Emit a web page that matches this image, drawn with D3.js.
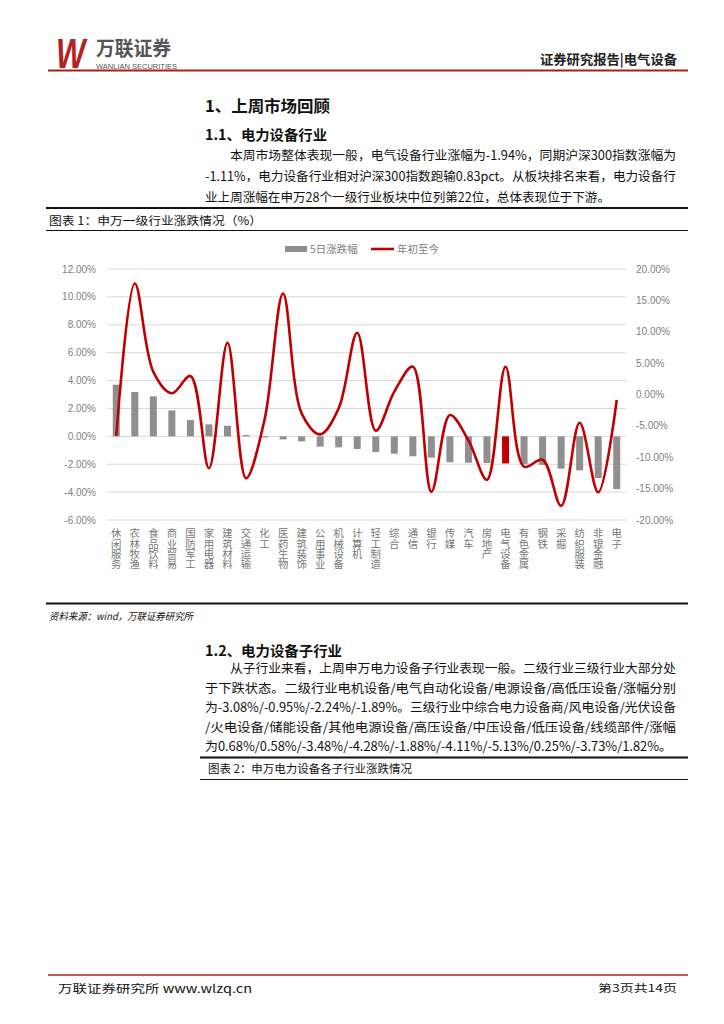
<!DOCTYPE html>
<html>
<head>
<meta charset="utf-8">
<script src="https://cdn.jsdelivr.net/npm/d3@7"></script>
<style>
  body { margin: 0; background: #fff; }
  svg { display: block; font-family: "Noto Sans CJK SC", "Noto Sans", sans-serif; }
  .vlabel { writing-mode: vertical-rl; text-orientation: upright; }
</style>
</head>
<body>
<svg width="724" height="1024"></svg>
<script>
// 申万一级行业
let categories = ['休闲服务', '农林牧渔', '食品饮料', '商业贸易', '国防军工', '家用电器', '建筑材料',
  '交通运输', '化工', '医药生物', '建筑装饰', '公用事业', '机械设备', '计算机', '轻工制造', '综合',
  '通信', '银行', '传媒', '汽车', '房地产', '电气设备', '有色金属', '钢铁', '采掘', '纺织服装',
  '非银金融', '电子'];
// 5日涨跌幅 (左轴, %)
let week5 = [3.70, 3.18, 2.87, 1.86, 1.17, 0.86, 0.76, 0.09, -0.08, -0.22, -0.36, -0.74, -0.79, -0.91,
  -1.13, -1.25, -1.43, -1.53, -1.86, -1.89, -1.91, -1.94, -1.98, -2.05, -2.32, -2.44, -2.99, -3.78];
// 年初至今 (右轴, %)
let ytd = [-6.6, 17.7, 3.6, 0.2, 2.95, -11.75, 8.25, -13.35, -4.0, 16.1, -3.0, -6.35, -2.2, 9.85,
  -5.76, 0.45, 4.43, -15.5, -3.27, -7.3, -13.6, 4.43, -11.5, -10.4, -17.75, -4.5, -15.6, -0.87];
let leftTicks = [12, 10, 8, 6, 4, 2, 0, -2, -4, -6];
let rightTicks = [20, 15, 10, 5, 0, -5, -10, -15, -20];
let highlight = '电气设备';

let svg = d3.select('svg');
let red = '#c00000', gray = '#8f8f8f', axisGray = '#7f7f7f';

// ---- text helpers ----
function textLine(str, x, y, opts) {
  let t = svg.append('text').attr('x', x).attr('y', y)
     .attr('font-size', opts.size || 12.5).attr('fill', opts.fill || '#111')
     .text(str);
  if (opts.bold) t.attr('font-weight', 'bold');
  if (opts.italic) t.attr('font-style', 'italic');
  if (opts.anchor) t.attr('text-anchor', opts.anchor);
  if (opts.len) t.attr('textLength', opts.len).attr('lengthAdjust', 'spacingAndGlyphs');
  return t;
}
function rule(x1, x2, y, w) {
  svg.append('line').attr('x1', x1).attr('x2', x2).attr('y1', y).attr('y2', y)
     .attr('stroke', '#111').attr('stroke-width', w);
}

// ---- page header ----
svg.append('text').attr('transform', 'translate(56,68) scale(0.74,1)')
   .attr('font-size', 42).attr('font-weight', 'bold').attr('font-style', 'italic')
   .attr('font-family', 'Liberation Sans, sans-serif')
   .attr('fill', '#b22222').text('W');
textLine('万联证券', 96, 56, {size: 20, bold: true, fill: '#555', len: 75});
svg.append('text').attr('x', 96).attr('y', 69)
   .attr('font-size', 7.5).attr('fill', '#555').attr('font-family', 'Liberation Sans, sans-serif')
   .text('WANLIAN SECURITIES');
textLine('证券研究报告|电气设备', 540, 64, {size: 13, bold: true, fill: '#222', len: 137});
svg.append('line').attr('x1', 48).attr('x2', 688).attr('y1', 70.5).attr('y2', 70.5)
   .attr('stroke', '#a3201c').attr('stroke-width', 2);

textLine('1、上周市场回顾', 205, 112, {size: 16, bold: true, len: 125});
textLine('1.1、电力设备行业', 205, 140, {size: 14, bold: true, len: 122});
textLine('本周市场整体表现一般，电气设备行业涨幅为-1.94%，同期沪深300指数涨幅为', 230, 160, {len: 446});
textLine('-1.11%，电力设备行业相对沪深300指数跑输0.83pct。从板块排名来看，电力设备行', 205, 181, {len: 471});
textLine('业上周涨幅在申万28个一级行业板块中位列第22位，总体表现位于下游。', 205, 202, {len: 405});

rule(46, 688, 208, 2);
textLine('图表 1：申万一级行业涨跌情况（%）', 49, 225, {size: 11.5, len: 213});
rule(46, 688, 230.5, 1);

// ---- chart ----
let x = d3.scaleBand().domain(categories).range([107, 626]);
let yL = d3.scaleLinear().domain([-6, 12]).range([520, 269]);
let yR = d3.scaleLinear().domain([-20, 20]).range([520, 269]);

svg.append('g').selectAll('line').data(leftTicks).enter().append('line')
   .attr('x1', 107).attr('x2', 626)
   .attr('y1', d => yL(d)).attr('y2', d => yL(d))
   .attr('stroke', '#d9d9d9').attr('stroke-width', 1);

svg.append('g').selectAll('text').data(leftTicks).enter().append('text')
   .attr('x', 96).attr('y', d => yL(d) + 3.5).attr('text-anchor', 'end')
   .attr('font-size', 10).attr('fill', axisGray)
   .attr('font-family', 'Liberation Sans, sans-serif')
   .text(d => d.toFixed(2) + '%');

svg.append('g').selectAll('text').data(rightTicks).enter().append('text')
   .attr('x', 636).attr('y', d => yR(d) + 3.5)
   .attr('font-size', 10).attr('fill', axisGray)
   .attr('font-family', 'Liberation Sans, sans-serif')
   .text(d => d.toFixed(2) + '%');

let barW = 7;
svg.append('g').selectAll('rect').data(week5).enter().append('rect')
   .attr('x', (d, i) => x(categories[i]) + x.bandwidth() / 2 - barW / 2)
   .attr('y', d => yL(Math.max(0, d)))
   .attr('width', barW)
   .attr('height', d => Math.abs(yL(d) - yL(0)))
   .attr('fill', (d, i) => categories[i] === highlight ? red : gray);

let line = d3.line()
   .x((d, i) => x(categories[i]) + x.bandwidth() / 2)
   .y(d => yR(d))
   .curve(d3.curveCatmullRom.alpha(0.5));
svg.append('path').datum(ytd).attr('d', line)
   .attr('fill', 'none').attr('stroke', red).attr('stroke-width', 2.6);

// stacked (vertical) category labels
svg.append('g').selectAll('text').data(categories).enter().append('text')
   .attr('class', 'vlabel')
   .attr('x', d => x(d) + x.bandwidth() / 2)
   .attr('y', 528)
   .attr('font-size', 10.4).attr('fill', '#777')
   .text(d => d);

// legend
svg.append('rect').attr('x', 285).attr('y', 246).attr('width', 22).attr('height', 6).attr('fill', gray);
svg.append('text').attr('x', 310).attr('y', 253).attr('font-size', 10.5).attr('fill', axisGray).text('5日涨跌幅');
svg.append('line').attr('x1', 371).attr('x2', 394).attr('y1', 249).attr('y2', 249)
   .attr('stroke', red).attr('stroke-width', 2.6);
svg.append('text').attr('x', 397).attr('y', 253).attr('font-size', 10.5).attr('fill', axisGray).text('年初至今');

rule(46, 688, 603.5, 2);
textLine('资料来源：wind，万联证券研究所', 49, 620, {size: 10, italic: true, len: 144});

// ---- section 1.2 ----
textLine('1.2、电力设备子行业', 205, 656, {size: 14, bold: true, len: 137});
textLine('从子行业来看，上周申万电力设备子行业表现一般。二级行业三级行业大部分处', 230, 673, {len: 446});
textLine('于下跌状态。二级行业电机设备/电气自动化设备/电源设备/高低压设备/涨幅分别', 205, 693, {len: 471});
textLine('为-3.08%/-0.95%/-2.24%/-1.89%。三级行业中综合电力设备商/风电设备/光伏设备', 205, 712, {len: 471});
textLine('/火电设备/储能设备/其他电源设备/高压设备/中压设备/低压设备/线缆部件/涨幅', 205, 732, {len: 471});
textLine('为0.68%/0.58%/-3.48%/-4.28%/-1.88%/-4.11%/-5.13%/0.25%/-3.73%/1.82%。', 205, 751, {len: 467});

rule(200, 688, 757.5, 2);
textLine('图表 2：申万电力设备各子行业涨跌情况', 208, 773, {size: 11.5, len: 204});
rule(200, 688, 779.5, 1);

// ---- footer ----
svg.append('line').attr('x1', 48).attr('x2', 688).attr('y1', 975).attr('y2', 975)
   .attr('stroke', '#a3201c').attr('stroke-width', 1.5);
textLine('万联证券研究所 www.wlzq.cn', 58, 993, {size: 11.5, len: 194});
textLine('第3页共14页', 598, 992, {size: 10, len: 79});
</script>
</body>
</html>
